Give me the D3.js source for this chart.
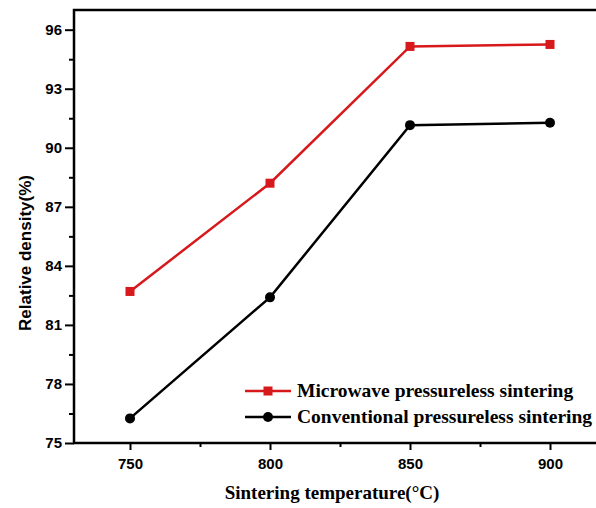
<!DOCTYPE html>
<html>
<head>
<meta charset="utf-8">
<script src="https://cdn.jsdelivr.net/npm/d3@7"></script>
<style>
  body { margin: 0; background: #fff; }
  svg { display: block; }
</style>
</head>
<body>
<div id="chart"></div>
<script>
/* data */
var temps = [750, 800, 850, 900];
var microwave = [82.7, 88.2, 95.15, 95.25];
var conventional = [76.25, 82.4, 91.15, 91.27];
var yTicks = [75, 78, 81, 84, 87, 90, 93, 96];
var seriesNames = ["Microwave pressureless sintering", "Conventional pressureless sintering"];

(function(){
var width = 596, height = 508;
var mLeft = 74, mTop = 10, mBottom = 443, mRight = 606;

var svg = d3.select("#chart").append("svg")
  .attr("width", width).attr("height", height);

var x = d3.scaleLinear().domain([730, 920]).range([mLeft, mRight]);
var y = d3.scaleLinear().domain([75, 97]).range([mBottom, mTop]);

// frame
svg.append("rect")
  .attr("x", mLeft).attr("y", mTop)
  .attr("width", mRight - mLeft).attr("height", mBottom - mTop)
  .attr("fill", "none").attr("stroke", "#000").attr("stroke-width", 2.5);

// y axis
var yMinor = d3.range(76.5, 96, 3);
var gy = svg.append("g").attr("transform", "translate(" + mLeft + ",0)");
gy.call(d3.axisLeft(y).tickValues(yTicks).tickSize(9).tickPadding(3).tickFormat(d3.format("d")));
gy.append("g").call(d3.axisLeft(y).tickValues(yMinor).tickSize(5).tickFormat(""));
gy.selectAll(".domain").remove();
gy.selectAll("line").attr("stroke", "#000").attr("stroke-width", 2);
gy.selectAll("text")
  .attr("font-family", "Liberation Sans, Arial, sans-serif")
  .attr("font-weight", "bold").attr("font-size", 15).attr("fill", "#000");

// x axis
var xMinor = [775, 825, 875];
var gx = svg.append("g").attr("transform", "translate(0," + mBottom + ")");
gx.call(d3.axisBottom(x).tickValues(temps).tickSize(7).tickPadding(8).tickFormat(d3.format("d")));
gx.append("g").call(d3.axisBottom(x).tickValues(xMinor).tickSize(4).tickFormat(""));
gx.selectAll(".domain").remove();
gx.selectAll("line").attr("stroke", "#000").attr("stroke-width", 2);
gx.selectAll("text")
  .attr("font-family", "Liberation Sans, Arial, sans-serif")
  .attr("font-weight", "bold").attr("font-size", 15).attr("fill", "#000");

// axis titles
svg.append("text")
  .attr("x", 332).attr("y", 499)
  .attr("text-anchor", "middle")
  .attr("font-family", "Liberation Serif, Times New Roman, serif")
  .attr("font-weight", "bold").attr("font-size", 19)
  .text("Sintering temperature(°C)");

svg.append("text")
  .attr("transform", "translate(31,253) rotate(-90)")
  .attr("text-anchor", "middle")
  .attr("font-family", "Liberation Sans, Arial, sans-serif")
  .attr("font-weight", "bold").attr("font-size", 17)
  .text("Relative density(%)");

// series
var line = d3.line()
  .x(function(d) { return x(d.t); })
  .y(function(d) { return y(d.v); });

function pack(vals) {
  return temps.map(function(t, i) { return { t: t, v: vals[i] }; });
}

var red = "#d7191c";
var redData = pack(microwave), blackData = pack(conventional);

svg.append("path").datum(blackData)
  .attr("d", line).attr("fill", "none").attr("stroke", "#000").attr("stroke-width", 2.5);
svg.append("g").selectAll("circle").data(blackData).enter().append("circle")
  .attr("cx", function(d) { return x(d.t); })
  .attr("cy", function(d) { return y(d.v); })
  .attr("r", 5).attr("fill", "#000");

svg.append("path").datum(redData)
  .attr("d", line).attr("fill", "none").attr("stroke", red).attr("stroke-width", 2.5);
svg.append("g").selectAll("rect").data(redData).enter().append("rect")
  .attr("x", function(d) { return x(d.t) - 4.5; })
  .attr("y", function(d) { return y(d.v) - 4.5; })
  .attr("width", 9).attr("height", 9).attr("fill", red);

// legend
var legend = svg.append("g").attr("transform", "translate(245,391)");
var items = [
  { name: seriesNames[0], color: red, shape: "square" },
  { name: seriesNames[1], color: "#000", shape: "circle" }
];
var row = legend.selectAll("g").data(items).enter().append("g")
  .attr("transform", function(d, i) { return "translate(0," + i * 26 + ")"; });
row.append("line")
  .attr("x1", 0).attr("x2", 46).attr("y1", 0).attr("y2", 0)
  .attr("stroke", function(d) { return d.color; }).attr("stroke-width", 2.5);
row.filter(function(d) { return d.shape == "square"; }).append("rect")
  .attr("x", 18.5).attr("y", -4.5).attr("width", 9).attr("height", 9)
  .attr("fill", function(d) { return d.color; });
row.filter(function(d) { return d.shape == "circle"; }).append("circle")
  .attr("cx", 23).attr("cy", 0).attr("r", 5)
  .attr("fill", function(d) { return d.color; });
row.append("text")
  .attr("x", 52).attr("y", 6)
  .attr("font-family", "Liberation Serif, Times New Roman, serif")
  .attr("font-weight", "bold").attr("font-size", 19.5)
  .text(function(d) { return d.name; });
})();
</script>
</body>
</html>
